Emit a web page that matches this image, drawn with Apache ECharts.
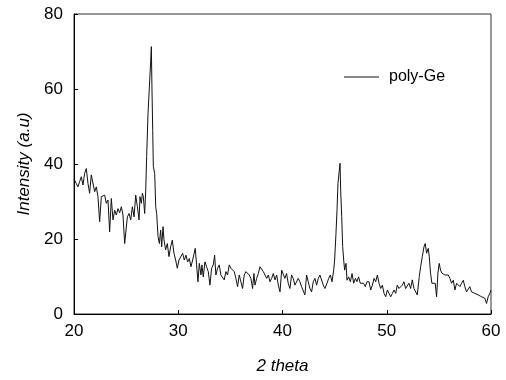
<!DOCTYPE html>
<html><head><meta charset="utf-8">
<script src="https://cdn.jsdelivr.net/npm/echarts@6/dist/echarts.min.js"></script>
<style>html,body{margin:0;padding:0;background:#fff}#c{width:506px;height:380px}</style>
</head><body><div id="c"></div>
<script>
const seriesName = 'poly-Ge';
const xAxisName = '2 theta';
const yAxisName = 'Intensity (a.u)';
const theta = [
20.00,20.22,20.38,20.54,20.70,20.86,21.02,21.18,21.34,21.50,21.66,21.82,21.98,22.14,22.30,22.46,22.62,22.78,22.94,23.10,
23.26,23.42,23.58,23.74,23.90,24.06,24.22,24.38,24.54,24.70,24.86,25.12,25.28,25.44,25.60,25.76,25.92,26.08,26.24,26.33,
26.46,26.56,26.65,26.78,26.88,26.97,27.10,27.20,27.29,27.36,27.42,27.48,27.55,27.61,27.74,27.84,27.93,28.06,28.19,28.31,
28.41,28.54,28.63,28.79,28.95,29.11,29.27,29.43,29.59,29.75,29.91,30.07,30.26,30.42,30.58,30.74,30.90,31.06,31.22,31.38,
31.54,31.63,31.76,31.89,32.02,32.18,32.27,32.40,32.56,32.72,32.88,33.04,33.20,33.36,33.49,33.61,33.77,33.93,34.09,34.25,
34.41,34.57,34.73,34.89,35.05,35.21,35.37,35.53,35.69,35.85,36.01,36.17,36.33,36.49,36.65,36.81,36.97,37.13,37.26,37.36,
37.52,37.68,37.84,38.00,38.16,38.32,38.48,38.64,38.80,38.96,39.12,39.28,39.44,39.60,39.76,39.92,40.07,40.23,40.39,40.55,
40.71,40.87,41.03,41.19,41.35,41.51,41.67,41.83,41.99,42.15,42.31,42.47,42.63,42.79,42.95,43.11,43.27,43.43,43.59,43.75,
43.91,44.07,44.27,44.43,44.59,44.75,44.91,45.00,45.13,45.23,45.32,45.45,45.52,45.58,45.68,45.77,45.87,45.96,46.09,46.19,
46.35,46.51,46.67,46.83,46.99,47.14,47.30,47.46,47.62,47.78,47.94,48.10,48.30,48.46,48.62,48.78,48.94,49.10,49.26,49.42,
49.58,49.74,49.90,50.06,50.22,50.38,50.54,50.70,50.86,51.01,51.17,51.33,51.49,51.65,51.81,51.97,52.13,52.29,52.45,52.61,
52.77,52.93,53.12,53.25,53.41,53.57,53.69,53.82,53.98,54.08,54.20,54.33,54.46,54.65,54.78,54.91,55.03,55.16,55.29,55.42,
55.58,55.74,55.90,56.06,56.22,56.38,56.54,56.70,56.86,57.02,57.18,57.34,57.49,57.65,57.81,57.97,58.13,58.29,58.45,58.61,
58.77,58.93,59.09,59.25,59.41,59.57,59.73,59.89,60.00
];
const intensity = [
36.0,34.8,33.9,35.3,36.6,34.4,37.5,38.8,34.8,32.2,37.1,37.5,32.6,33.9,31.3,24.6,31.3,30.8,31.7,29.5,
30.4,21.9,30.8,25.1,27.7,26.4,28.1,27.0,28.6,26.4,18.8,25.9,26.8,25.1,28.6,25.9,31.7,28.6,25.1,31.3,
29.5,32.2,31.3,26.8,33.0,42.0,53.5,58.9,59.3,67.7,71.3,60.0,49.0,39.3,37.5,28.6,26.8,20.7,18.8,22.4,
17.9,23.3,19.8,17.1,18.8,15.3,17.9,19.7,16.2,14.4,12.2,14.4,14.4,16.2,14.4,15.7,13.9,14.8,12.6,14.4,
13.9,17.5,13.1,8.6,13.5,10.4,13.1,9.9,13.9,12.6,11.3,7.7,12.2,13.1,15.7,10.4,12.2,13.1,10.4,10.8,
9.1,11.3,10.4,13.1,12.2,11.7,11.3,9.5,7.3,10.4,8.6,6.8,10.4,11.3,10.8,10.4,9.5,6.8,10.8,7.7,
9.5,10.8,12.6,13.1,11.3,11.7,9.5,10.4,8.6,9.5,10.8,9.1,10.4,7.7,5.9,11.7,12.2,9.5,10.8,8.2,
6.8,10.4,9.5,7.7,8.2,9.5,8.6,7.3,6.8,5.1,10.4,8.6,6.8,5.9,8.6,9.5,7.7,9.5,10.4,9.9,
7.7,6.8,8.2,9.5,10.4,8.6,11.7,14.4,21.5,27.7,34.8,38.4,40.2,33.0,26.0,18.0,14.4,11.7,13.5,9.0,
9.9,8.6,10.8,8.2,9.5,8.6,9.9,8.2,8.6,8.2,7.3,8.6,8.6,6.4,7.7,9.5,8.6,10.4,8.2,6.8,
7.7,5.5,4.6,6.4,5.9,4.6,5.5,6.4,5.5,7.7,6.8,7.3,7.7,8.6,6.8,7.3,8.2,6.8,9.1,6.8,
6.4,5.1,10.0,12.6,15.3,17.9,18.8,16.2,17.5,15.3,10.9,8.2,8.6,8.2,4.6,10.9,13.5,11.7,10.9,11.3,
10.4,9.9,10.4,9.5,8.2,9.0,6.4,8.2,8.6,7.3,8.2,9.0,7.3,5.9,6.4,7.3,5.9,6.4,5.5,5.9,
5.1,5.5,4.6,5.1,4.2,2.8,4.6,5.5,6.4
];
const xTicks = [20, 30, 40, 50, 60];
const yTicks = [0, 20, 40, 60, 80];

const font = "'Liberation Sans', Arial, sans-serif";
const chart = echarts.init(document.getElementById('c'), null, {renderer: 'canvas'});
const axisCommon = {
  axisLine: {show: true, lineStyle: {color: '#000', width: 1}},
  axisTick: {show: true, inside: true, length: 4, lineStyle: {color: '#000'}},
  splitLine: {show: false},
  nameLocation: 'middle',
  nameTextStyle: {fontStyle: 'italic', fontSize: 17, color: '#000', fontFamily: font}
};
chart.setOption({
  animation: false,
  backgroundColor: '#fff',
  grid: {left: 74, right: 15, top: 14, bottom: 66, show: true, borderColor: '#333', borderWidth: 1, containLabel: false},
  legend: {
    data: [seriesName], left: 344, top: 69, padding: 0,
    icon: 'rect', itemWidth: 35, itemHeight: 1,
    textStyle: {fontSize: 16, color: '#000', fontFamily: font, padding: [0, 0, 0, 5]}
  },
  xAxis: Object.assign({}, axisCommon, {
    type: 'value', min: xTicks[0], max: xTicks[xTicks.length - 1], interval: xTicks[1] - xTicks[0],
    name: xAxisName, nameGap: 44,
    axisLabel: {margin: 9, fontSize: 17, color: '#000', fontFamily: font}
  }),
  yAxis: Object.assign({}, axisCommon, {
    type: 'value', min: yTicks[0], max: yTicks[yTicks.length - 1], interval: yTicks[1] - yTicks[0],
    name: yAxisName, nameGap: 41,
    axisLabel: {margin: 11, fontSize: 17, color: '#000', fontFamily: font}
  }),
  series: [{
    name: seriesName, type: 'line', symbol: 'none', showSymbol: false,
    lineStyle: {width: 1, color: '#111'}, itemStyle: {color: '#111'},
    data: theta.map((t, i) => [t, intensity[i]])
  }]
});
</script></body></html>
